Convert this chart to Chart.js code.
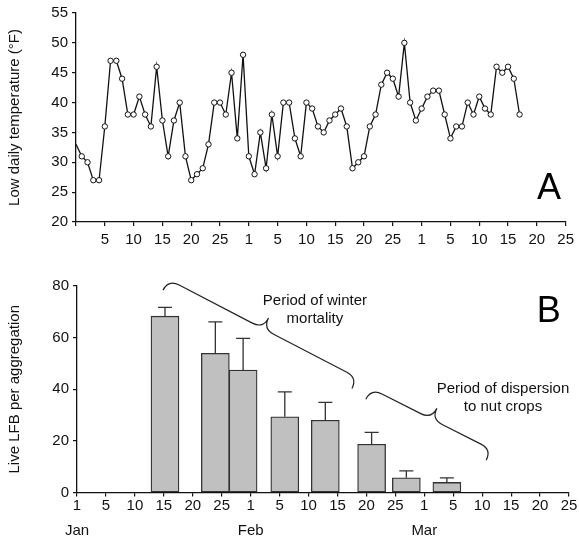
<!DOCTYPE html>
<html>
<head>
<meta charset="utf-8">
<script src="https://cdn.jsdelivr.net/npm/chart.js@4.4.1/dist/chart.umd.min.js"></script>
<style>
  html, body { margin: 0; background: #fff; }
  #wrap { position: relative; width: 579px; height: 540px; }
  canvas { position: absolute; left: 0; }
  #a { top: 0; }
  #b { top: 260px; }
</style>
</head>
<body>
<div id="wrap">
  <canvas id="a" width="579" height="250"></canvas>
  <canvas id="b" width="579" height="280"></canvas>
</div>
<script>
const FONT = '"Liberation Sans", Arial, sans-serif';
const INK = '#111';

// panel A: low daily temperature (°F), one reading per day from 1 Jan
const lowTemps = [33, 31, 30, 27, 27, 36, 47, 47, 44, 38,
                  38, 41, 38, 36, 46, 37, 31, 37, 40, 31,
                  27, 28, 29, 33, 40, 40, 38, 45, 34, 48,
                  31, 28, 35, 29, 38, 31, 40, 40, 34, 31,
                  40, 39, 36, 35, 37, 38, 39, 36, 29, 30,
                  31, 36, 38, 43, 45, 44, 41, 50, 40, 37,
                  39, 41, 42, 42, 38, 34, 36, 36, 40, 38,
                  41, 39, 38, 46, 45, 46, 44, 38];

// x axis runs in day steps, one tick every 5 steps
const tickLabelsA = ["", "5", "10", "15", "20", "25", "1", "5", "10", "15", "20", "25", "1", "5", "10", "15", "20", "25"];
const tickLabelsB = ["1", "5", "10", "15", "20", "25", "1", "5", "10", "15", "20", "25", "1", "5", "10", "15", "20", "25"];
const monthSteps = [0, 30, 60];
const monthNames = ["Jan", "Feb", "Mar"];

// panel B: live LFB per aggregation (mean, top of error bar)
const barSteps = [15.2, 23.9, 28.7, 35.9, 42.9, 50.9, 56.9, 63.9];
const barMeans = [68.3, 53.9, 47.4, 29.3, 28.0, 18.7, 5.7, 3.9];
const barErrTop = [71.7, 66.1, 59.7, 39.0, 34.9, 23.3, 8.4, 5.7];

// annotations of panel B, in axis units
const braces = [
  { from: [14.85, 78.4], to: [47.5, 40.3] },
  { from: [49.9, 36.1], to: [70.7, 12.5] }
];
const notes = [
  { x: 41.1, y: [74.3, 67.1], lines: ["Period of winter", "mortality"] },
  { x: 73.6, y: [40.3, 33.2], lines: ["Period of dispersion", "to nut crops"] }
];

const tickFont = { family: FONT, size: 15 };

function xAxis(labels, pad, h) {
  return {
    type: "linear", min: 0, max: 85, offset: false,
    grid: { drawOnChartArea: false, offset: false, tickLength: 4, color: INK, lineWidth: 1.2 },
    border: { color: INK, width: 1.3 },
    ticks: { stepSize: 5, autoSkip: false, maxRotation: 0, padding: pad, color: INK,
             font: tickFont, callback: v => labels[Math.round(v / 5)] ?? "" },
    afterFit: s => { s.height = h; }
  };
}

function yAxis(min, max, step, title, w) {
  return {
    min, max,
    grid: { drawOnChartArea: false, tickLength: 4, color: INK, lineWidth: 1.2 },
    border: { color: INK, width: 1.3 },
    ticks: { stepSize: step, padding: 4, color: INK, font: tickFont },
    title: { display: true, text: title, color: INK, font: tickFont, padding: { top: 6, bottom: 0 } },
    afterFit: s => { s.width = w; }
  };
}

const letter = (txt, at) => ({
  id: "letter",
  afterDraw(c) {
    const { ctx, scales: { x, y } } = c;
    ctx.save();
    ctx.font = `36px ${FONT}`; ctx.fillStyle = "#000";
    ctx.textAlign = "center"; ctx.textBaseline = "alphabetic";
    ctx.fillText(txt, x.getPixelForValue(at[0]), y.getPixelForValue(at[1]));
    ctx.restore();
  }
});

new Chart(document.getElementById("a"), {
  type: "line",
  data: {
    datasets: [{
      data: lowTemps.map((t, i) => ({ x: i, y: t })),
      borderColor: INK, borderWidth: 1.3, tension: 0,
      pointRadius: c => c.dataIndex === 0 ? 0 : 2.7,
      pointBackgroundColor: "#fff", pointBorderColor: INK, pointBorderWidth: 1
    }]
  },
  options: {
    responsive: false, animation: false, devicePixelRatio: 1,
    layout: { padding: { top: 13, right: 13, left: 0, bottom: 0 } },
    plugins: { legend: { display: false }, tooltip: { enabled: false } },
    scales: {
      x: xAxis(tickLabelsA, 5, 28),
      y: yAxis(20, 55, 5, "Low daily temperature (°F)", 76)
    }
  },
  plugins: [letter("A", [82.1, 23.9])]
});

function drawBrace(ctx, x0, y0, x1, y1, h, q) {
  const dx = x1 - x0, dy = y1 - y0, L = Math.hypot(dx, dy);
  const ux = dx / L, uy = dy / L, nx = uy, ny = -ux;
  const P = (s, t) => [x0 + ux * s + nx * t, y0 + uy * s + ny * t];
  ctx.beginPath();
  ctx.moveTo(...P(0, 0));
  ctx.quadraticCurveTo(...P(0, h), ...P(q, h));
  ctx.lineTo(...P(L / 2 - q, h));
  ctx.quadraticCurveTo(...P(L / 2, h), ...P(L / 2, 2 * h));
  ctx.quadraticCurveTo(...P(L / 2, h), ...P(L / 2 + q, h));
  ctx.lineTo(...P(L - q, h));
  ctx.quadraticCurveTo(...P(L, h), ...P(L, 0));
  ctx.stroke();
}

const extrasB = {
  id: "extrasB",
  afterDatasetsDraw(c) {
    const { ctx, scales: { x, y }, chartArea } = c;
    const bars = c.getDatasetMeta(0).data;
    ctx.save();
    // error bars, upper side only
    ctx.strokeStyle = "#333"; ctx.lineWidth = 1.3;
    bars.forEach((b, i) => {
      const top = y.getPixelForValue(barErrTop[i]);
      ctx.beginPath();
      ctx.moveTo(b.x, b.y); ctx.lineTo(b.x, top);
      ctx.moveTo(b.x - 7, top); ctx.lineTo(b.x + 7, top);
      ctx.stroke();
    });
    // braces
    ctx.strokeStyle = "#222"; ctx.lineWidth = 1.2;
    for (const br of braces)
      drawBrace(ctx, x.getPixelForValue(br.from[0]), y.getPixelForValue(br.from[1]),
                x.getPixelForValue(br.to[0]), y.getPixelForValue(br.to[1]), 12, 12);
    // notes
    ctx.fillStyle = INK; ctx.font = `15px ${FONT}`;
    ctx.textAlign = "center"; ctx.textBaseline = "middle";
    for (const n of notes)
      n.lines.forEach((t, k) => ctx.fillText(t, x.getPixelForValue(n.x), y.getPixelForValue(n.y[k])));
    // month names under the tick labels
    monthSteps.forEach((m, k) => ctx.fillText(monthNames[k], x.getPixelForValue(m), chartArea.bottom + 38));
    ctx.restore();
  }
};

new Chart(document.getElementById("b"), {
  type: "bar",
  data: {
    datasets: [{
      data: barSteps.map((d, i) => ({ x: d, y: barMeans[i] })),
      backgroundColor: "#c0c0c0", borderColor: "#333", borderWidth: 1.3,
      borderSkipped: false, barThickness: 28
    }]
  },
  options: {
    responsive: false, animation: false, devicePixelRatio: 1,
    layout: { padding: { top: 26, right: 10, left: 0, bottom: 0 } },
    plugins: { legend: { display: false }, tooltip: { enabled: false } },
    scales: {
      x: xAxis(tickLabelsB, 0, 47.5),
      y: yAxis(0, 80, 20, "Live LFB per aggregation", 77)
    }
  },
  plugins: [extrasB, letter("B", [81.5, 66.1])]
});
</script>
</body>
</html>
